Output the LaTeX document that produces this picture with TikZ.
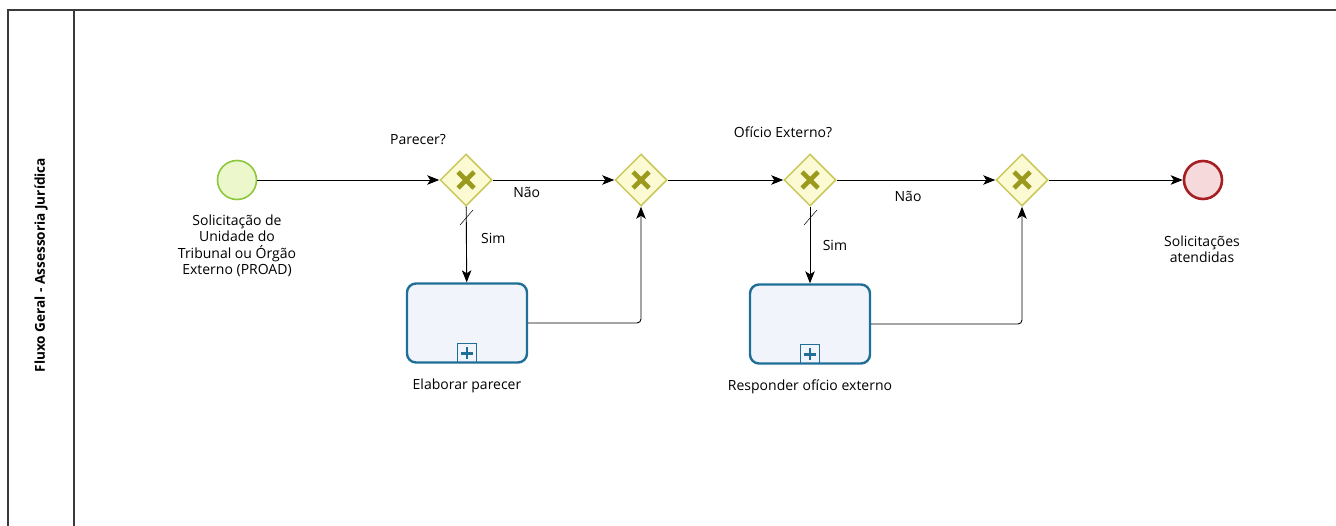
\documentclass[tikz,border=0pt]{standalone}
\usepackage{fontspec}
\setmainfont{Open Sans}
\usetikzlibrary{shapes.geometric,arrows.meta,positioning}
\definecolor{startfill}{HTML}{ECF8CC}
\definecolor{startline}{HTML}{8DC63F}
\definecolor{endfill}{HTML}{F6D9DA}
\definecolor{endline}{HTML}{A41E22}
\definecolor{gwfill}{HTML}{FBFAD2}
\definecolor{gwline}{HTML}{C9C85A}
\definecolor{gwcross}{HTML}{9C9A1E}
\definecolor{taskline}{HTML}{1F6E97}
\definecolor{taskfill}{HTML}{F1F5FB}
\definecolor{lanegray}{HTML}{3A3A3A}

\begin{document}
\begin{tikzpicture}[x=1pt, y=-1pt, >={Stealth[length=12pt, width=9.5pt, inset=3pt]},
  every node/.style={font=\fontsize{14}{16.5}\selectfont},
  startev/.style={circle, draw=startline, fill=startfill, line width=1.6pt, minimum size=39pt, inner sep=0pt},
  endev/.style={circle, draw=endline, fill=endfill, line width=2.6pt, minimum size=38pt, inner sep=0pt},
  gateway/.style={diamond, draw=gwline, fill=gwfill, line width=1.5pt, minimum width=52pt, minimum height=52pt, inner sep=0pt},
  xmark/.style={line width=4.6pt, draw=gwcross},
  subproc/.style={rectangle, rounded corners=9pt, draw=taskline, fill=taskfill, line width=2.4pt, minimum width=120pt, minimum height=79pt},
  flow/.style={->, line width=0.9pt, draw=black},
  lbl/.style={align=center, inner sep=0pt}]

  \useasboundingbox (0,0) rectangle (1336,525);

  % pool / lane
  \draw[lanegray, line width=1.2pt] (8,540) -- (8,10) -- (1350,10);
  \draw[lanegray, line width=1.2pt] (74,10) -- (74,540);
  \node[rotate=90, font=\fontsize{13.6}{15}\selectfont\bfseries] (lane) at (41,265) {Fluxo Geral - Assessoria Jurídica};

  % events
  \node[startev] (start) at (237,180) {};
  \node[endev] (fim) at (1203,180) {};
  \node[lbl] (startlbl) at (237,246) {Solicitação de\\Unidade do\\Tribunal ou Órgão\\Externo (PROAD)};
  \node[lbl] (fimlbl) at (1202,249) {Solicitações\\atendidas};

  % gateways
  \node[gateway] (g1) at (466,180) {};
  \node[gateway] (g2) at (641,180) {};
  \node[gateway] (g3) at (810,180) {};
  \node[gateway] (g4) at (1022,180) {};
  \foreach \g in {g1,g2,g3,g4}{
    \draw[xmark] ([shift={(-8,-8)}]\g.center) -- ([shift={(8,8)}]\g.center);
    \draw[xmark] ([shift={(-8,8)}]\g.center) -- ([shift={(8,-8)}]\g.center);
  }
  \node[lbl] (q1) at (418,140) {Parecer?};
  \node[lbl] (q2) at (783,132) {Ofício Externo?};

  % sub-processes
  \node[subproc] (t1) at (467,323) {};
  \node[subproc] (t2) at (810,324) {};
  \foreach \t in {t1,t2}{
    \draw[taskline, line width=1.4pt] ([shift={(-9.5,-20)}]\t.south) rectangle ([shift={(9.5,-1)}]\t.south);
    \draw[taskline, line width=2.8pt] ([shift={(-6,-10.5)}]\t.south) -- ([shift={(6,-10.5)}]\t.south);
    \draw[taskline, line width=2.8pt] ([shift={(0,-16.5)}]\t.south) -- ([shift={(0,-4.5)}]\t.south);
  }
  \node[lbl, below=15pt of t1] (t1lbl) {Elaborar parecer};
  \node[lbl, below=15pt of t2] (t2lbl) {Responder ofício externo};

  % sequence flows
  \draw[flow] (start) -- (g1);
  \draw[flow] (g1) -- node[pos=0.28, below=3pt] {Não} (g2);
  \draw[flow] (g1) -- node[pos=0.42, right=11pt] {Sim} (t1);
  \draw[line width=0.5pt] ([shift={(-6,45)}]g1.center) -- ([shift={(7,30)}]g1.center);
  \draw[flow, rounded corners=4pt] (t1.east) -| (g2.south);
  \draw[flow] (g2) -- (g3);
  \draw[flow] (g3) -- node[pos=0.45, below=7pt] {Não} (g4);
  \draw[flow] (g3) -- node[pos=0.5, right=9pt] {Sim} (t2);
  \draw[line width=0.5pt] ([shift={(-6,45)}]g3.center) -- ([shift={(7,30)}]g3.center);
  \draw[flow, rounded corners=4pt] (t2.east) -| (g4.south);
  \draw[flow] (g4) -- (fim);
\end{tikzpicture}
\end{document}
